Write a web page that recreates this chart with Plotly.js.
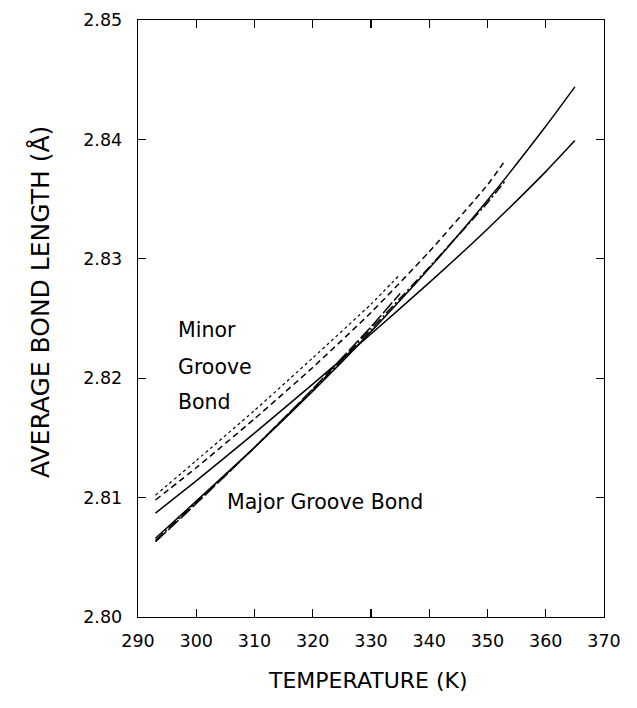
<!DOCTYPE html>
<html>
<head>
<meta charset="utf-8">
<script src="https://cdn.plot.ly/plotly-3.0.1.min.js"></script>
<style>
html,body{margin:0;padding:0;background:#fff;}
#chart{width:637px;height:708px;}
</style>
</head>
<body>
<div id="chart"></div>
<script>
// Minor groove bond runs (start higher at 293 K)
const minorT335 = [293, 300, 310, 320, 330, 335];
const minorV335 = [2.8102, 2.8131, 2.8173, 2.8217, 2.8262, 2.8287];
const minorT353 = [293, 300, 310, 320, 330, 340, 350, 353];
const minorV353 = [2.8098, 2.8125, 2.8166, 2.8209, 2.8255, 2.8306, 2.8362, 2.8382];
const minorT365 = [293, 300, 310, 320, 330, 340, 350, 360, 365];
const minorV365 = [2.8087, 2.8114, 2.8154, 2.8195, 2.8237, 2.8280, 2.8325, 2.8373, 2.8399];
// Major groove bond runs (start lower at 293 K)
const majorT335 = [293, 300, 310, 320, 330, 335];
const majorV335 = [2.8063, 2.8095, 2.8142, 2.8191, 2.8243, 2.8271];
const majorT353 = [293, 300, 310, 320, 330, 340, 350, 353];
const majorV353 = [2.8064, 2.8096, 2.8142, 2.8190, 2.8241, 2.8293, 2.8347, 2.8365];
const majorT365 = [293, 300, 310, 320, 330, 340, 350, 360, 365];
const majorV365 = [2.8066, 2.8097, 2.8142, 2.8189, 2.8239, 2.8292, 2.8349, 2.8411, 2.8444];

const xTicks = [290, 300, 310, 320, 330, 340, 350, 360, 370];
const yTicks = [2.80, 2.81, 2.82, 2.83, 2.84, 2.85];
const yTickText = ['2.80', '2.81', '2.82', '2.83', '2.84', '2.85'];

const xTitle = 'TEMPERATURE (K)';
const yTitle = 'AVERAGE BOND LENGTH (Å)';
const minorLabel = ['Minor', 'Groove', 'Bond'];
const majorLabel = 'Major Groove Bond';

function tr(x, y, dash, w) {
  return {x: x, y: y, type: 'scatter', mode: 'lines',
    line: {color: '#000', width: w || 1.4, dash: dash, shape: 'spline', smoothing: 0.5},
    hoverinfo: 'skip', showlegend: false};
}

const data = [
  tr(minorT335, minorV335, 'dot', 1.2),
  tr(minorT353, minorV353, '6px,4px', 1.5),
  tr(minorT365, minorV365, 'solid', 1.5),
  tr(majorT335, majorV335, '14px,3px', 1.5),
  tr(majorT353, majorV353, '10px,3px,2px,3px', 1.5),
  tr(majorT365, majorV365, 'solid', 1.5)
];

const font = 'DejaVu Sans, sans-serif';
const txt = (size) => ({family: font, size: size, color: '#000'});
const annotations = [
  {x: 296.5, y: 2.8240, text: minorLabel[0]},
  {x: 296.5, y: 2.8209, text: minorLabel[1]},
  {x: 296.5, y: 2.8180, text: minorLabel[2]},
  {x: 305.0, y: 2.8096, text: majorLabel}
].map(a => Object.assign(a, {xref: 'x', yref: 'y', xanchor: 'left', yanchor: 'middle',
  showarrow: false, font: txt(20.5)}));

annotations.push({xref: 'paper', yref: 'paper', x: -0.2103, y: 0.5276,
  xanchor: 'center', yanchor: 'middle', textangle: -90, showarrow: false,
  text: yTitle, font: txt(25)});
annotations.push({xref: 'paper', yref: 'paper', x: 0.4936, y: -0.1072,
  xanchor: 'center', yanchor: 'middle', showarrow: false,
  text: xTitle, font: txt(22)});

const layout = {
  width: 637, height: 708,
  margin: {l: 138, r: 33, t: 20, b: 91},
  paper_bgcolor: '#fff', plot_bgcolor: '#fff',
  showlegend: false,
  xaxis: {
    range: [290, 370], tickvals: xTicks, ticktext: xTicks.map(String),
    ticks: 'inside', ticklen: 8, tickwidth: 1.2, tickcolor: '#000',
    showline: true, linecolor: '#000', linewidth: 1.3, mirror: 'ticks',
    showgrid: false, zeroline: false,
    tickfont: txt(17.5),
    ticklabelstandoff: 8
  },
  yaxis: {
    range: [2.80, 2.85], tickvals: yTicks, ticktext: yTickText,
    ticks: 'inside', ticklen: 8, tickwidth: 1.2, tickcolor: '#000',
    showline: true, linecolor: '#000', linewidth: 1.3, mirror: 'ticks',
    showgrid: false, zeroline: false,
    tickfont: txt(17.5),
    ticklabelstandoff: 11
  },
  annotations: annotations
};

Plotly.newPlot('chart', data, layout, {displayModeBar: false, staticPlot: true});
</script>
</body>
</html>
